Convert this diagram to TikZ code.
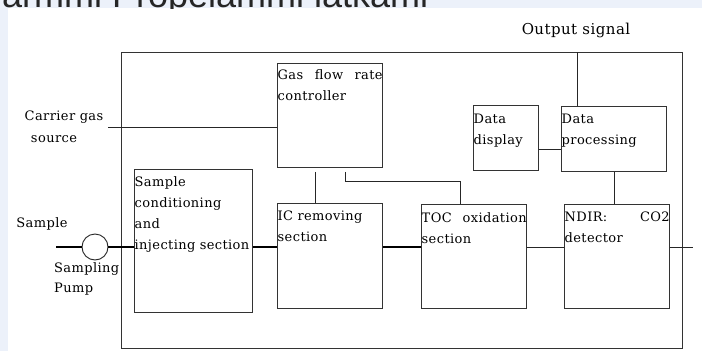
\documentclass[tikz,border=0pt]{standalone}
\usepackage{fontspec}
\setmainfont{DejaVu Serif}[LetterSpace=3]
\newfontfamily\headfont{Liberation Sans}
\usetikzlibrary{positioning}
\definecolor{strip}{RGB}{236,241,250}

\begin{document}
\begin{tikzpicture}[
        x=1pt, y=-1pt, % координаты в пикселях, ось y вниз
        unit/.style = {rectangle, draw=black!80, line width=0.9pt, inner sep=0pt, anchor=north west}, % блоки
        inscr/.style = {anchor=north west, inner xsep=0.5pt, inner ysep=0pt, align=left, font=\fontsize{13}{21}\selectfont}, % надписи в блоках
        lab/.style = {inner sep=0pt, align=left, font=\fontsize{13}{20}\selectfont}, % подписи снаружи
        pipe/.style = {line width=2.6pt},
        wire/.style = {draw=black!85, line width=0.9pt},
    ]

    \useasboundingbox (0,0) rectangle (702,351);
    \fill[white] (0,0) rectangle (702,351);
    \fill[strip] (0,0) rectangle (702,8);
    \fill[strip] (0,0) rectangle (8,351);
    \begin{scope}
        \clip (0,0) rectangle (702,8);
        \node[anchor=base west, inner sep=0pt, text=black!85, font=\headfont\fontsize{36}{36}\selectfont] (head) at (2,7) {armmi Propelammi latkami};
    \end{scope}

    % рамка анализатора
    \node[unit, line width=1.2pt, minimum width=561pt, minimum height=296pt] (frame) at (121,52) {};

    % блоки
    \node[unit, minimum width=105pt, minimum height=104pt] (gas) at (277,63) {};
    \node[unit, minimum width=118pt, minimum height=143pt] (samp) at (134,169) {};
    \node[unit, minimum width=105pt, minimum height=105pt] (icr) at (277,203) {};
    \node[unit, minimum width=105pt, minimum height=104pt] (toc) at (421,204) {};
    \node[unit, minimum width=105pt, minimum height=104pt] (ndir) at (564,204) {};
    \node[unit, minimum width=65pt, minimum height=65pt] (disp) at (473,105) {};
    \node[unit, minimum width=105pt, minimum height=65pt] (proc) at (561,106) {};

    % надписи в блоках
    \node[inscr, text width=105pt, align=justify] (gastxt) at ([yshift=-6pt]gas.north west) {Gas flow rate\linebreak controller};
    \node[inscr, text width=118pt] (samptxt) at ([yshift=-7pt]samp.north west) {Sample\\conditioning\\and\\injecting section};
    \node[inscr, text width=105pt] (icrtxt) at ([yshift=-8pt]icr.north west) {IC removing\\section};
    \node[inscr, text width=105pt, align=justify] (toctxt) at ([yshift=-8pt]toc.north west) {TOC oxidation\linebreak section};
    \node[inscr, text width=105pt, align=justify] (ndirtxt) at ([yshift=-8pt]ndir.north west) {NDIR: CO2\linebreak detector};
    \node[inscr, text width=65pt] (disptxt) at ([yshift=-9pt]disp.north west) {Data\\display};
    \node[inscr, text width=105pt] (proctxt) at ([yshift=-8pt]proc.north west) {Data\\processing};

    % подписи снаружи
    \node[lab, font=\fontsize{15}{16}\selectfont] (outsig) at (576,30) {Output signal};
    \node[lab] (carrier) at (64,117) {Carrier gas};
    \node[lab] (source) at (54,139) {source};
    \node[lab] (sample) at (42,224) {Sample};
    \node[lab, anchor=north west] (spump) at (54,262) {Sampling\\Pump};

    % насос и линия пробы
    \node[circle, draw=black!85, line width=0.9pt, minimum size=26pt, inner sep=0pt] (pump) at (95,247) {};
    \coordinate (sin) at (56,247);
    \coordinate (sout) at (693,247);
    \draw[pipe] (sin) -- (pump.west);
    \draw[pipe] (pump.east) -- (pump.east -| samp.west);
    \draw[pipe] (samp.east |- sin) -- (icr.west |- sin);
    \draw[pipe] (icr.east |- sin) -- (toc.west |- sin);
    \draw[wire] (toc.east |- sin) -- (ndir.west |- sin);
    \draw[wire] (ndir.east |- sin) -- (sout);

    % газ и сигналы
    \coordinate (cg) at (108,127);
    \draw[wire] (cg) -- (cg -| gas.west);
    \draw[wire] ([xshift=-14.5pt, yshift=-4pt]gas.south) -- ([xshift=-14.5pt]icr.north);
    \draw[wire] ([xshift=15.5pt, yshift=-4pt]gas.south) -- ++(0,10) -| ([xshift=-13.5pt]toc.north);
    \draw[wire] ([yshift=-11.5pt]disp.east) -- ([yshift=-11.5pt]disp.east -| proc.west);
    \draw[wire] (proc.south) -- (proc.south |- ndir.north);
    \draw[wire] ([xshift=-36.5pt]proc.north) -- ([xshift=-36.5pt]proc.north |- frame.north);
\end{tikzpicture}
\end{document}
